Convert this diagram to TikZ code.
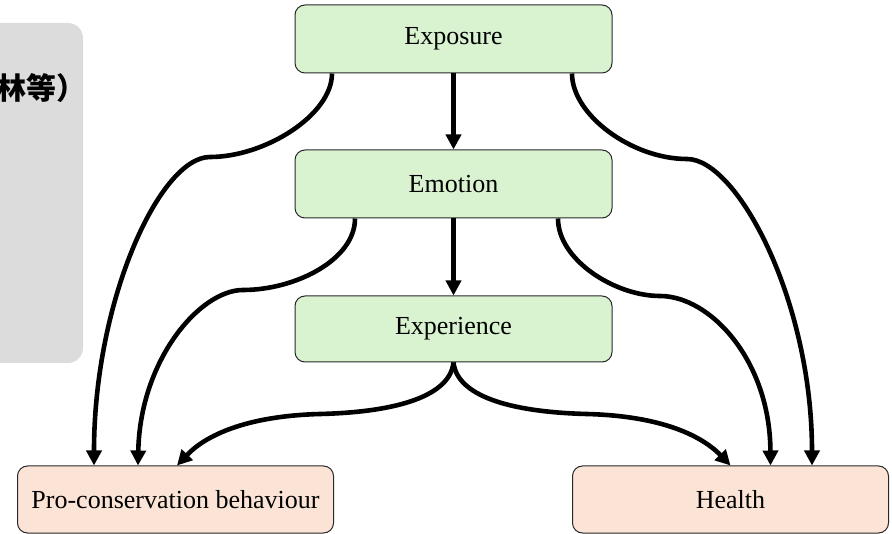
\documentclass[tikz,border=0pt]{standalone}
\usepackage{fontspec}
\setmainfont{Liberation Serif}
\newfontfamily\cjk{Noto Sans CJK SC}
\usetikzlibrary{arrows.meta}
\definecolor{boxgreen}{RGB}{217,242,208}
\definecolor{boxsalmon}{RGB}{251,228,214}
\definecolor{panelgray}{RGB}{220,220,220}
\definecolor{edgegray}{RGB}{40,40,40}
\tikzset{
  greenbox/.style={draw=edgegray, line width=1pt, fill=boxgreen, rounded corners=10pt,
    minimum width=317pt, minimum height=68pt, inner sep=0pt,
    font=\fontsize{26}{30}\selectfont},
  outbox/.style={draw=edgegray, line width=1pt, fill=boxsalmon, rounded corners=10pt,
    minimum width=316pt, minimum height=67pt, inner sep=0pt,
    font=\fontsize{26}{30}\selectfont},
  arr/.style={line width=4.6pt, -{Triangle[length=15pt,width=15pt]}},
}
\begin{document}
\begin{tikzpicture}[x=1pt,y=-1pt]
\useasboundingbox (0,0) rectangle (892,534);
\clip (0,0) rectangle (892,534);
% left grey panel
\fill[panelgray, rounded corners=15pt] (-30,23) rectangle (83,363);
\node[anchor=east, inner sep=0pt, font=\cjk\bfseries\fontsize{30}{32}\selectfont] (cjk) at (87,88) {林等）};
% nodes
\node[greenbox] (exposure) at (453.5,39) {Exposure};
\node[greenbox] (emotion) at (453.5,184) {Emotion};
\node[greenbox, minimum height=66pt] (experience) at (453.5,329) {Experience};
\node[outbox] (pro) at (175.5,499.5) {Pro-conservation behaviour};
\node[outbox] (health) at (730.5,499.5) {Health};
% straight arrows
\draw[arr] (exposure) -- (emotion);
\draw[arr] (emotion) -- (experience);
% exposure curves
\draw[arr] ([xshift=-121.5pt]exposure.south) .. controls (332,115) and (265,157) .. (210,157)
  .. controls (160,157) and (94,300) .. ([xshift=-81.5pt]pro.north);
\draw[arr] ([xshift=118.5pt]exposure.south) .. controls (572,115) and (632,159) .. (687,159)
  .. controls (737,159) and (812,300) .. ([xshift=81.5pt]health.north);
% emotion curves
\draw[arr] ([xshift=-98.5pt]emotion.south) .. controls (355,260) and (295,290) .. (243,290)
  .. controls (200,290) and (140,360) .. ([xshift=-37.5pt]pro.north);
\draw[arr] ([xshift=104.5pt]emotion.south) .. controls (558,260) and (615,296) .. (660,296)
  .. controls (710,296) and (770,360) .. ([xshift=40pt]health.north);
% experience curves
\draw[arr] (experience.south) .. controls (450,395) and (400,412) .. (320,414)
  .. controls (245,416) and (205,436) .. ([xshift=1.5pt]pro.north);
\draw[arr] (experience.south) .. controls (457,395) and (507,412) .. (587,414)
  .. controls (662,416) and (702,436) .. (health.north);
\end{tikzpicture}
\end{document}
